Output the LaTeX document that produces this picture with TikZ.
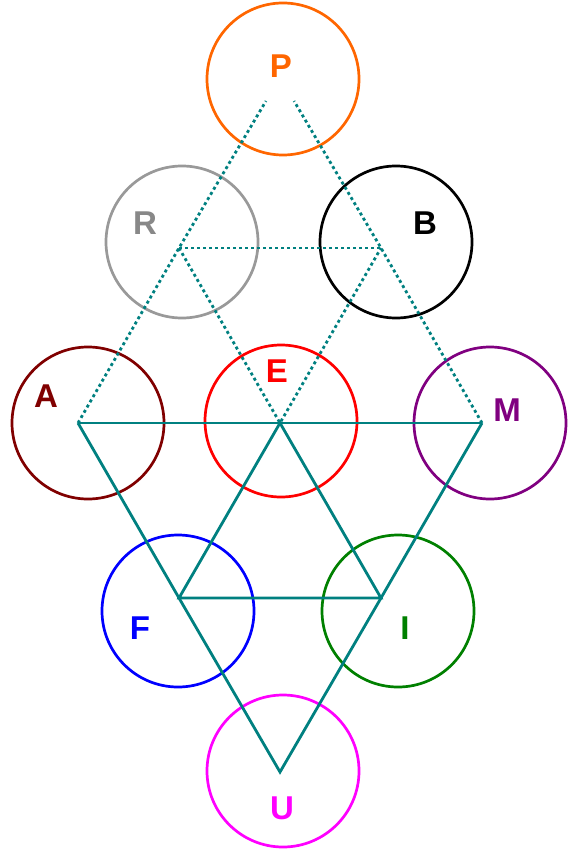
\documentclass[tikz,border=0pt]{standalone}
\usepackage{fontspec}
\setmainfont{Liberation Sans}
\usetikzlibrary{positioning}

\definecolor{tealline}{HTML}{008080}
\definecolor{pcol}{HTML}{FF6600}
\definecolor{rcol}{HTML}{999999}
\definecolor{rtxt}{HTML}{888888}
\definecolor{acol}{HTML}{800000}
\definecolor{mcol}{HTML}{800080}
\definecolor{icol}{HTML}{008000}
\definecolor{ucol}{HTML}{FF00FF}
\definecolor{fcol}{HTML}{0000FF}
\definecolor{ecol}{HTML}{FF0000}

\begin{document}
\begin{tikzpicture}[
  x=1pt, y=-1pt,
  ring/.style={draw, circle, line width=2.7pt, minimum size=152pt, inner sep=0pt},
  tag/.style={font=\fontsize{33}{33}\selectfont\bfseries, inner sep=0pt},
  solidline/.style={draw=tealline, line width=2.8pt},
  dotline/.style={draw=tealline, line width=2.8pt, dash pattern=on 3pt off 3pt}
]
  \useasboundingbox (0,0) rectangle (568,850);
  % circles
  \node[ring, draw=pcol] (P) at (283,79) {};
  \node[ring, draw=rcol] (R) at (182,242) {};
  \node[ring, draw=black] (B) at (396,242) {};
  \node[ring, draw=acol] (A) at (88,423) {};
  \node[ring, draw=ecol] (E) at (281,421) {};
  \node[ring, draw=mcol] (M) at (490,423) {};
  \node[ring, draw=fcol] (F) at (178,611) {};
  \node[ring, draw=icol] (I) at (398,611) {};
  \node[ring, draw=ucol] (U) at (283,771) {};
  % labels
  \node[tag, text=pcol] (Pt) at (281,66) {P};
  \node[tag, text=rtxt] (Rt) at (145,223) {R};
  \node[tag, text=black] (Bt) at (425,223) {B};
  \node[tag, text=acol] (At) at (46,396) {A};
  \node[tag, text=ecol] (Et) at (277,371) {E};
  \node[tag, text=mcol] (Mt) at (507,410) {M};
  \node[tag, text=fcol] (Ft) at (140,628) {F};
  \node[tag, text=icol] (It) at (405,628) {I};
  \node[tag, text=ucol] (Ut) at (282,808) {U};
  % triangle corners
  \coordinate (ca) at (78,423);
  \coordinate (ce) at (280,423);
  \coordinate (cm) at (482,423);
  \coordinate (cr) at (179,248);
  \coordinate (cb) at (381,248);
  \coordinate (cp1) at (266,101);
  \coordinate (cp2) at (294,101);
  \coordinate (cf) at (179,598);
  \coordinate (ci) at (381,598);
  \coordinate (cu) at (280,772);
  % upper dotted triangle
  \draw[dotline] (ca) -- (cr) -- (cp1);
  \draw[dotline] (cm) -- (cb) -- (cp2);
  \draw[dotline] (cr) -- (cb);
  \draw[dotline] (cr) -- (ce) -- (cb);
  % lower solid triangle
  \draw[solidline] (ca) -- (cm);
  \draw[solidline] (ca) -- (cf) -- (cu) -- (ci) -- (cm);
  \draw[solidline] (cf) -- (ce) -- (ci) -- cycle;
\end{tikzpicture}
\end{document}
